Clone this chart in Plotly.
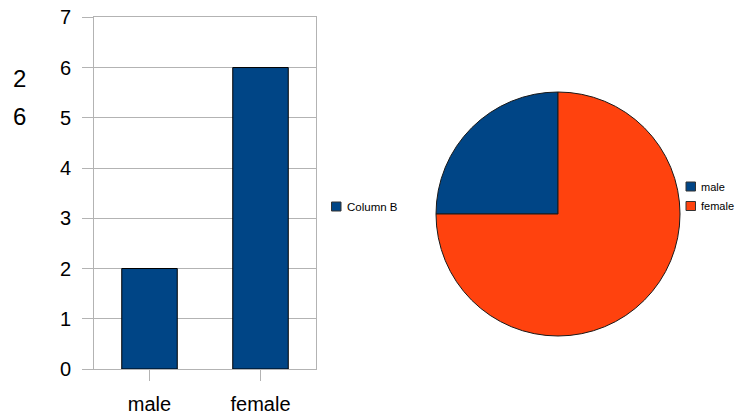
import plotly.graph_objects as go

# Data
categories = ["male", "female"]
counts = [2, 6]
series_name = "Column B"
side_values = ["2", "6"]
y_ticks = [0, 1, 2, 3, 4, 5, 6, 7]

W, H = 737, 415
BLUE = "#004586"
ORANGE = "#ff420e"
GRID = "#b3b3b3"
FONT = "Liberation Sans, Arial, sans-serif"


def px_x(x):
    return x / W


def px_y(y):
    return 1 - y / H


fig = go.Figure()

fig.add_trace(go.Bar(
    x=categories, y=counts, name=series_name,
    marker=dict(color=BLUE, line=dict(color="#000000", width=1)),
    showlegend=False, xaxis="x", yaxis="y", hoverinfo="skip",
))

# Pie: first slice runs from 9 o'clock clockwise up to 12 o'clock
PIE_CX, PIE_CY, PIE_R = 558, 214, 122
pie_colors = [BLUE, ORANGE]
fig.add_trace(go.Pie(
    labels=categories, values=counts,
    marker=dict(colors=pie_colors, line=dict(color="#1a1a1a", width=1)),
    sort=False, direction="clockwise", rotation=-90,
    textinfo="none", hoverinfo="skip", showlegend=False,
    domain=dict(x=[px_x(PIE_CX - PIE_R), px_x(PIE_CX + PIE_R)],
                y=[px_y(PIE_CY + PIE_R), px_y(PIE_CY - PIE_R)]),
))


def legend_entry(x_left, y_mid, color, label, size):
    """Small square key with its label to the right."""
    fig.add_shape(
        type="rect", xref="paper", yref="paper",
        x0=px_x(x_left), x1=px_x(x_left + 9.5),
        y0=px_y(y_mid + 4.5), y1=px_y(y_mid - 4.5),
        fillcolor=color, line=dict(color="#333333", width=1),
    )
    fig.add_annotation(
        x=px_x(x_left + 13), y=px_y(y_mid + 0.5), xref="paper", yref="paper",
        text=label, showarrow=False, xanchor="left", yanchor="middle",
        font=dict(family=FONT, size=size, color="#000000"),
    )


# Key for the bar series
legend_entry(331.5, 206.5, BLUE, series_name, 11.5)

# Key for the pie slices
for i, (lab, col) in enumerate(zip(categories, pie_colors)):
    legend_entry(686, 186.5 + i * 19.5, col, lab, 11)

# Stacked numbers at the far left
for i, val in enumerate(side_values):
    fig.add_annotation(
        x=px_x(19), y=px_y(78.5 + i * 38), xref="paper", yref="paper",
        text=val, showarrow=False, xanchor="center", yanchor="middle",
        font=dict(family=FONT, size=24, color="#000000"),
    )

fig.update_layout(
    width=W, height=H,
    margin=dict(l=0, r=0, t=0, b=0, autoexpand=False),
    paper_bgcolor="#ffffff", plot_bgcolor="#ffffff",
    font=dict(family=FONT, color="#000000"),
    bargap=0.5,
    showlegend=False,
    xaxis=dict(
        domain=[px_x(94), px_x(316)],
        type="category", range=[-0.5, 1.5], automargin=False,
        showline=True, linecolor=GRID, linewidth=1, mirror=True,
        ticks="outside", ticklen=11, tickcolor=GRID, tickwidth=1,
        tickfont=dict(family=FONT, size=20, color="#000000"),
        ticklabelstandoff=6,
        showgrid=False, zeroline=False,
    ),
    yaxis=dict(
        domain=[px_y(369), px_y(17.3)],
        range=[0, 7], tickvals=y_ticks, automargin=False,
        showline=True, linecolor=GRID, linewidth=1, mirror=True,
        ticks="outside", ticklen=11, tickcolor=GRID, tickwidth=1,
        tickfont=dict(family=FONT, size=20, color="#000000"),
        ticklabelstandoff=7,
        showgrid=True, gridcolor=GRID, gridwidth=1, zeroline=False,
    ),
)

fig.write_html("out.html")
